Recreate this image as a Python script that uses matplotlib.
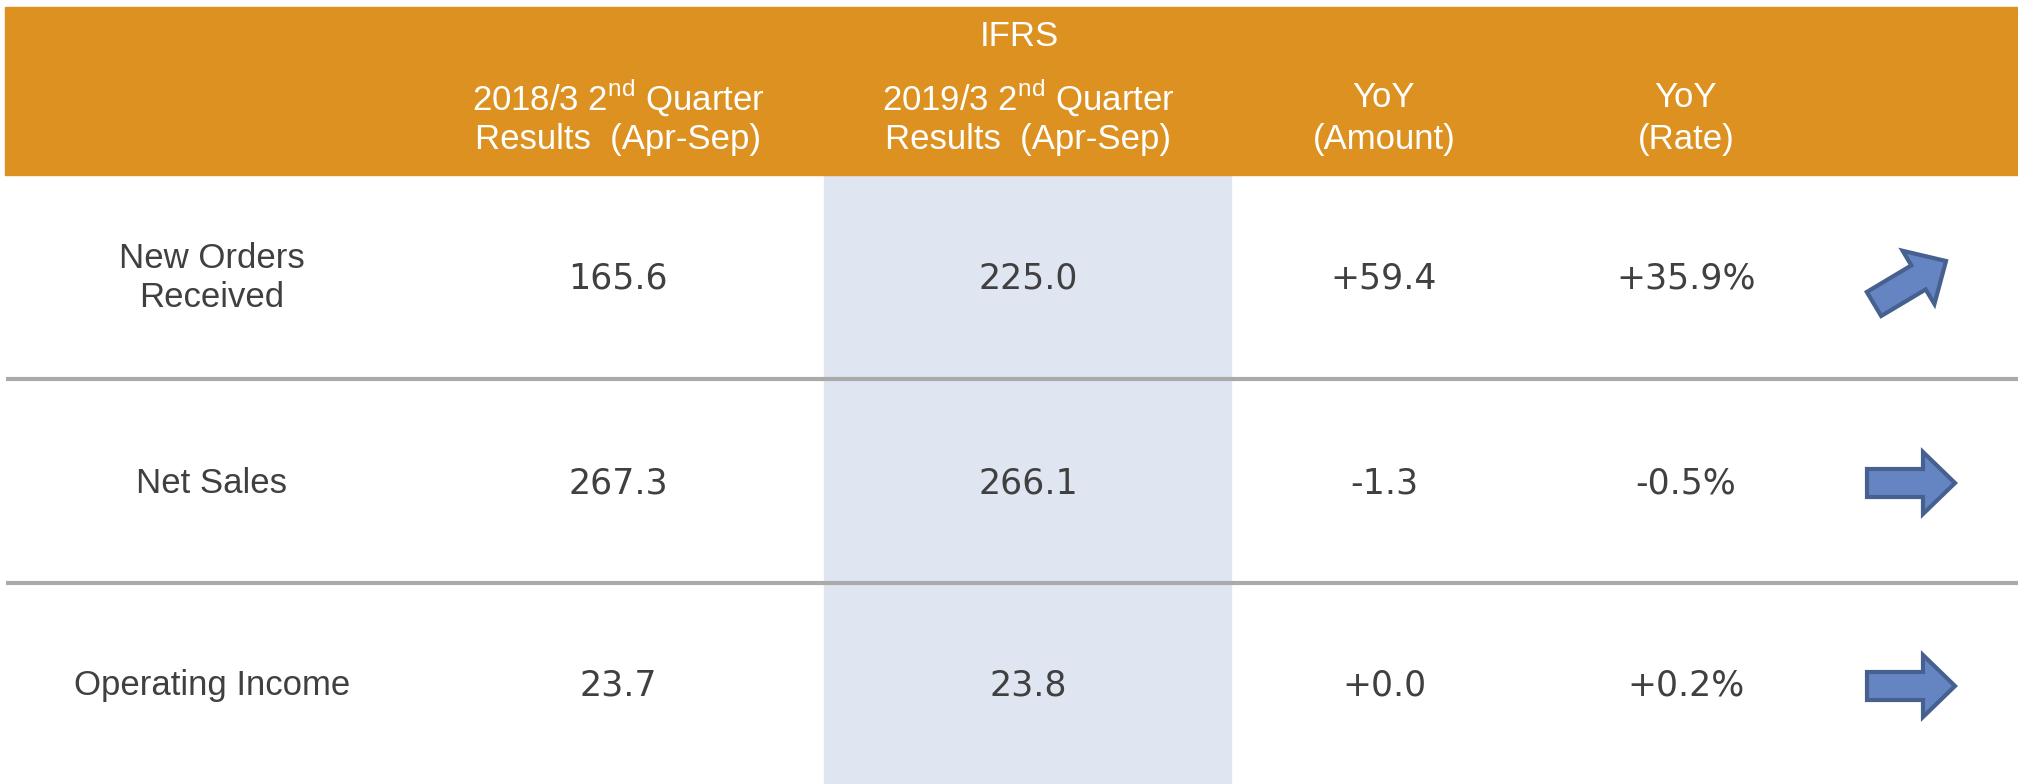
import matplotlib.pyplot as plt
from matplotlib.patches import Rectangle, FancyArrow
from matplotlib import font_manager

names = {f.name for f in font_manager.fontManager.ttflist}
narrow = 'Liberation Sans Narrow' if 'Liberation Sans Narrow' in names else 'Liberation Sans'
plt.rcParams['mathtext.fontset'] = 'custom'
plt.rcParams['mathtext.rm'] = narrow

# data
rows = ['New Orders\nReceived', 'Net Sales', 'Operating Income']
prev = ['165.6', '267.3', '23.7']
curr = ['225.0', '266.1', '23.8']
yoy_amount = ['+59.4', '-1.3', '+0.0']
yoy_rate = ['+35.9%', '-0.5%', '+0.2%']
trend = ['up', 'flat', 'flat']
headers = [('2018/3 2$^{\\mathrm{nd}}$ Quarter', 'Results  (Apr-Sep)'),
           ('2019/3 2$^{\\mathrm{nd}}$ Quarter', 'Results  (Apr-Sep)'),
           ('YoY', '(Amount)'),
           ('YoY', '(Rate)')]

fig = plt.figure(figsize=(20.18, 7.84), dpi=100)
ax = fig.add_axes([0, 0, 1, 1])
ax.set_xlim(0, 2018)
ax.set_ylim(784, 0)
ax.axis('off')

orange = '#DC9120'
grey = '#404040'

# header band and highlighted column
ax.add_patch(Rectangle((5, 7), 2013, 168, color=orange, zorder=1))
ax.add_patch(Rectangle((824, 175), 407, 609, color='#DFE6F1', zorder=0))

ax.text(1019, 36, 'IFRS', ha='center', va='center', color='white',
        fontsize=25, family=narrow)
col_x = [618, 1028, 1384, 1686]
for x, (l1, l2) in zip(col_x, headers):
    ax.text(x, 97, l1, ha='center', va='center', color='white', fontsize=25, family=narrow)
    ax.text(x, 139, l2, ha='center', va='center', color='white', fontsize=25, family=narrow)

# separators
for y in [379, 583]:
    ax.plot([6, 2018], [y, y], color='#AAAAAA', lw=3, zorder=2, solid_capstyle='butt')

row_y = [278, 483, 686]
for i, y in enumerate(row_y):
    ax.text(212, y, rows[i], ha='center', va='center', color=grey, fontsize=25,
            family=narrow, linespacing=1.25)
    for x, v in zip(col_x, [prev[i], curr[i], yoy_amount[i], yoy_rate[i]]):
        ax.text(x, y, v, ha='center', va='center', color=grey, fontsize=25,
                family='DejaVu Sans')
    if trend[i] == 'up':
        x0, y0, dx, dy = 1874, 304, 72, -43
    else:
        x0, y0, dx, dy = 1867, y, 88, 0
    ax.add_patch(FancyArrow(x0, y0, dx, dy, width=28, head_width=62, head_length=32,
                            length_includes_head=True, fc='#6584C2', ec='#46608F',
                            lw=3, zorder=3))

fig.savefig('out.png', dpi=100)
